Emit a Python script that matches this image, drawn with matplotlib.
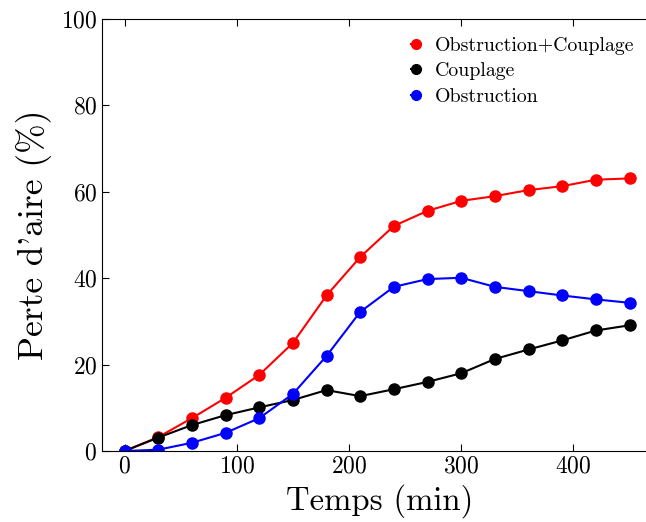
import numpy as np
import matplotlib.pyplot as plt

plt.rcParams['font.family'] = 'serif'
plt.rcParams['font.serif'] = ['cmr10']
plt.rcParams['mathtext.fontset'] = 'cm'
plt.rcParams['axes.formatter.use_mathtext'] = True

# Data
temps = np.arange(0, 451, 30)
obs_coupl = [0, 3.2, 7.6, 12.3, 17.6, 25.0, 36.0, 44.9, 52.1, 55.6, 57.9, 59.0, 60.4, 61.3, 62.8, 63.1]
couplage = [0, 3.1, 6.0, 8.3, 10.1, 11.8, 14.1, 12.7, 14.3, 16.0, 18.0, 21.3, 23.5, 25.6, 27.9, 29.1]
obstruction = [0, 0.3, 1.9, 4.2, 7.6, 13.2, 22.0, 32.2, 38.0, 39.8, 40.1, 38.0, 37.0, 36.0, 35.1, 34.3]

fig = plt.figure(figsize=(6.46, 5.22), dpi=100)
ax = fig.add_axes([0.158, 0.136, 0.86, 0.8276])

ax.plot(temps, obs_coupl, 'o-', color='red', ms=8, lw=1.5, label='Obstruction+Couplage')
ax.plot(temps, couplage, 'o-', color='black', ms=8, lw=1.5, label='Couplage')
ax.plot(temps, obstruction, 'o-', color='blue', ms=8, lw=1.5, label='Obstruction')

ax.set_xlim(-20, 475)
ax.set_ylim(0, 100)
ax.set_xticks([0, 100, 200, 300, 400])
ax.set_yticks([0, 20, 40, 60, 80, 100])
ax.tick_params(direction='in', top=True, right=True, labelsize=17, length=5)
ax.set_xlabel('Temps (min)', fontsize=23.5)
ax.set_ylabel("Perte d'aire (%)", fontsize=25.5, labelpad=6)

leg = ax.legend(loc='upper right', bbox_to_anchor=(0.99, 1.0), frameon=False,
                fontsize=14.3, handlelength=0.5, handletextpad=0.7, labelspacing=0.38)
for h in leg.legend_handles:
    h.set_markersize(7)

plt.savefig('out.png', dpi=100)
